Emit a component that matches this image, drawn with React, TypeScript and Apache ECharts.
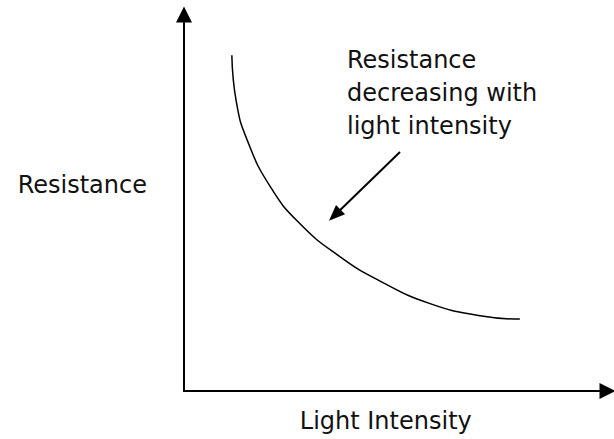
import React, { useEffect, useRef } from "react";
import * as echarts from "echarts";

// Curve (arbitrary units, 0-100 on both axes)
const lightValues = [11.3, 12.4, 14.9, 20.3, 27.4, 36.8, 46.3, 58.1, 69.9, 79.3];
const resistanceValues = [89.2, 76.5, 66.7, 54.4, 44.4, 35.7, 29.2, 23.2, 20.0, 19.1];

// Annotation arrow (from -> to)
const arrowFrom = [51.0, 63.5];
const arrowTo = [35.6, 46.7];

const xAxisName = "Light Intensity";
const yAxisName = "Resistance";
const annotationLines = ["Resistance", "decreasing with", "light intensity"];

const FONT = "DejaVu Sans";
const FS = 24;

export default function App() {
  const ref = useRef<HTMLDivElement>(null);
  useEffect(() => {
    if (!ref.current) return;
    const chart = echarts.init(ref.current, undefined, { renderer: "svg" });
    const curve = lightValues.map((x, i) => [x, resistanceValues[i]]);
    chart.setOption({
      animation: false,
      backgroundColor: "#ffffff",
      grid: { left: 184, right: 6.5, top: 14.5, bottom: 48, containLabel: false },
      xAxis: {
        type: "value",
        min: 0,
        max: 100,
        name: xAxisName,
        nameLocation: "middle",
        nameGap: 18,
        nameTextStyle: {
          fontFamily: FONT,
          fontSize: FS,
          color: "#111",
          verticalAlign: "top",
          padding: [0, 20, 0, 0],
        },
        axisLine: {
          show: true,
          onZero: false,
          symbol: ["none", "triangle"],
          symbolSize: [16, 16],
          lineStyle: { color: "#000", width: 2 },
        },
        axisTick: { show: false },
        axisLabel: { show: false },
        splitLine: { show: false },
      },
      yAxis: {
        type: "value",
        min: 0,
        max: 100,
        name: yAxisName,
        nameLocation: "middle",
        nameRotate: 0,
        nameGap: 37,
        nameTextStyle: {
          fontFamily: FONT,
          fontSize: FS,
          color: "#111",
          verticalAlign: "bottom",
          lineHeight: 36,
        },
        axisLine: {
          show: true,
          onZero: false,
          symbol: ["none", "triangle"],
          symbolSize: [16, 16],
          lineStyle: { color: "#000", width: 2 },
        },
        axisTick: { show: false },
        axisLabel: { show: false },
        splitLine: { show: false },
      },
      series: [
        {
          type: "line",
          data: curve,
          smooth: 0.5,
          symbol: "none",
          lineStyle: { color: "#000", width: 1.5 },
          markLine: {
            silent: true,
            symbol: ["none", "triangle"],
            symbolSize: [13, 16],
            lineStyle: { color: "#000", width: 2, type: "solid" },
            label: { show: false },
            data: [[{ coord: arrowFrom }, { coord: arrowTo }]],
          },
        },
      ],
      graphic: [
        {
          type: "text",
          left: 347,
          top: 43,
          style: {
            text: annotationLines.join("\n"),
            fontFamily: FONT,
            fontSize: FS,
            lineHeight: 33,
            fill: "#111",
          },
        },
      ],
    });
    return () => chart.dispose();
  }, []);
  return (
    <div
      ref={ref}
      style={{ position: "fixed", left: 0, top: 0, width: 614, height: 439, background: "#fff" }}
    />
  );
}
